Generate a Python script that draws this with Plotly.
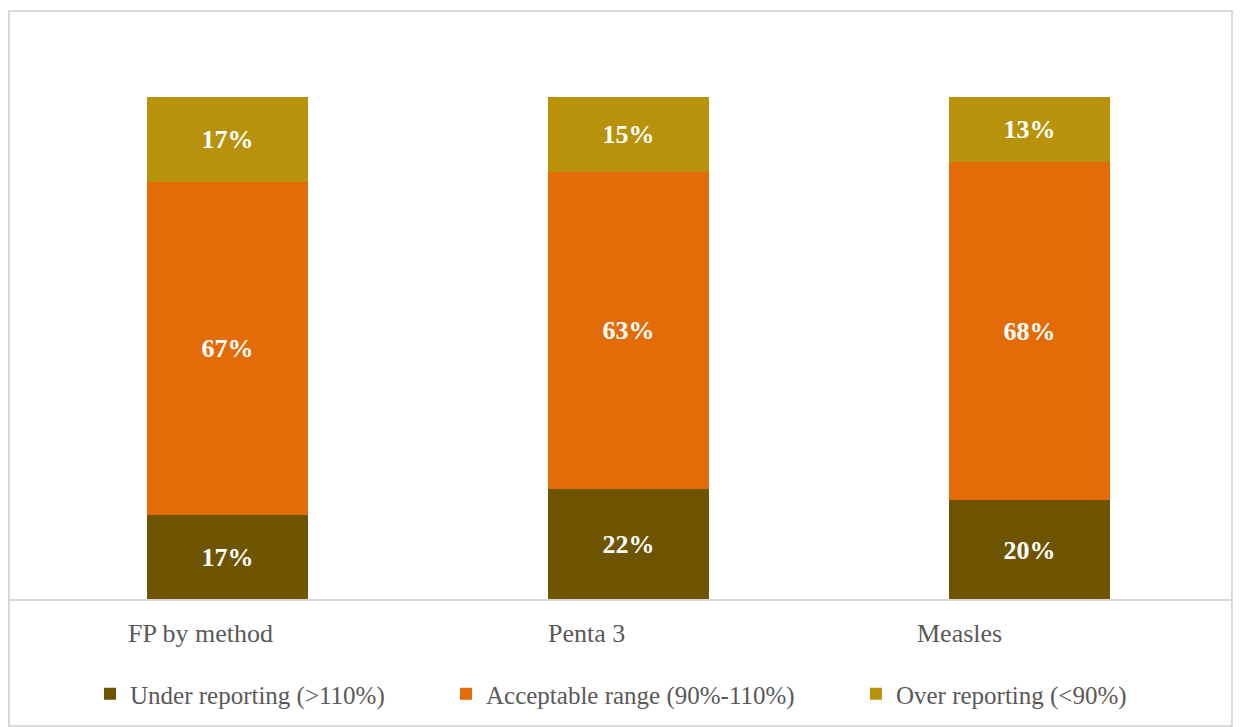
import plotly.graph_objects as go

# Reporting accuracy by indicator (share of facilities, %)
categories = ["FP by method", "Penta 3", "Measles"]
under_reporting = [17, 22, 20]
acceptable_range = [67, 63, 68]
over_reporting = [17, 15, 13]

series = [
    ("Under reporting (>110%)", under_reporting, "#6E5400"),
    ("Acceptable range (90%-110%)", acceptable_range, "#E36C09"),
    ("Over reporting (<90%)", over_reporting, "#B8920A"),
]

W, H = 1240, 727
ML, MR, MT, MB = 27, 10, 97, 127
PW, PH = W - ML - MR, H - MT - MB


def px_x(px):
    return (px - ML) / PW


def px_y(py):
    return (H - MB - py) / PH


FONT = "Liberation Serif"
PAD = "\u00a0" * 9  # extra room between legend entries

fig = go.Figure()
for i, (name, vals, color) in enumerate(series):
    fig.add_trace(go.Bar(
        x=categories,
        y=vals,
        name=name + (PAD if i < len(series) - 1 else ""),
        marker=dict(color=color, line=dict(width=0)),
        text=[f"{v}%" for v in vals],
        texttemplate="%{text}",
        textposition="inside",
        insidetextanchor="middle",
        textangle=0,
        textfont=dict(family=FONT, size=26, color="white", weight="bold"),
        hoverinfo="skip",
    ))

# category labels below the axis
label_shift = [-27, -42, -70]
for cat, dx in zip(categories, label_shift):
    fig.add_annotation(
        x=cat, y=px_y(633), xref="x", yref="paper",
        text=cat, showarrow=False, xshift=dx,
        xanchor="center", yanchor="middle",
        font=dict(family=FONT, size=26, color="#595959"),
    )

shapes = [
    # outer frame
    dict(type="rect", xref="paper", yref="paper",
         x0=px_x(9), x1=px_x(1232), y0=px_y(726), y1=px_y(11),
         line=dict(color="#D9D9D9", width=2), fillcolor="rgba(0,0,0,0)", layer="below"),
    # category axis line
    dict(type="line", xref="paper", yref="paper",
         x0=px_x(9), x1=px_x(1232), y0=px_y(600), y1=px_y(600),
         line=dict(color="#D9D9D9", width=2), layer="above"),
]

fig.update_layout(
    width=W, height=H,
    margin=dict(l=ML, r=MR, t=MT, b=MB),
    barmode="stack",
    barnorm="percent",
    bargap=0.6,
    paper_bgcolor="white",
    plot_bgcolor="white",
    showlegend=True,
    legend=dict(
        orientation="h",
        x=px_x(611), xanchor="center",
        y=px_y(694), yanchor="middle",
        font=dict(family=FONT, size=25, color="#595959"),
        traceorder="normal",
        itemclick=False,
        itemwidth=30,
    ),
    xaxis=dict(showticklabels=False, showline=False, showgrid=False, zeroline=False, ticks=""),
    yaxis=dict(range=[0, 100], visible=False, showgrid=False, zeroline=False),
    shapes=shapes,
)

fig.write_html("out.html")
